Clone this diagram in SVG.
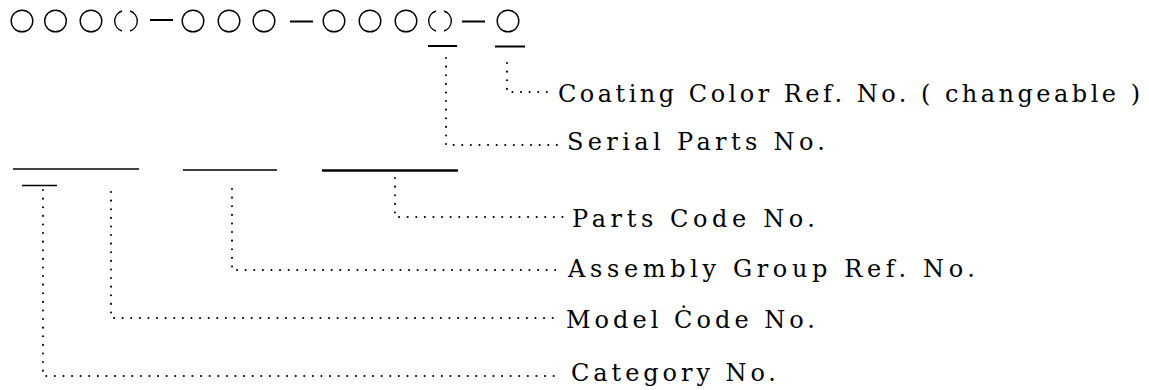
<svg xmlns="http://www.w3.org/2000/svg" width="1149" height="390" viewBox="0 0 1149 390">
<style>
.c{fill:none;stroke:#000;stroke-width:1.4}
.d{stroke:#000;stroke-width:2}
.u{stroke:#000;stroke-width:1.4}
.lead{fill:none;stroke:#000;stroke-width:2;stroke-dasharray:0.1 8.5;stroke-linecap:round}
.t{font-family:"DejaVu Serif","Liberation Serif",serif;font-size:24px;fill:#000}
</style>
<rect width="1149" height="390" fill="#fff"/>
<g id="code">
<circle class="c" cx="22" cy="21" r="10.8"/>
<circle class="c" cx="55.5" cy="21" r="10.8"/>
<circle class="c" cx="91" cy="21" r="10.8"/>
<path class="c" d="M122 11 A10.5 10.5 0 0 0 122 31 M130 11 A10.5 10.5 0 0 1 130 31"/>
<line class="d" x1="150" y1="20" x2="173" y2="20"/>
<circle class="c" cx="193" cy="21" r="10.8"/>
<circle class="c" cx="229" cy="21" r="10.8"/>
<circle class="c" cx="264" cy="21" r="10.8"/>
<line class="d" x1="290" y1="21.5" x2="313" y2="21.5"/>
<circle class="c" cx="334" cy="21" r="10.8"/>
<circle class="c" cx="370" cy="21" r="10.8"/>
<circle class="c" cx="406" cy="21" r="10.8"/>
<path class="c" d="M436 11 A10.5 10.5 0 0 0 436 31 M444 11 A10.5 10.5 0 0 1 444 31"/>
<line class="d" x1="462" y1="21.5" x2="485" y2="21.5"/>
<circle class="c" cx="508" cy="21" r="10.8"/>
</g>
<g id="underlines">
<line class="d" x1="428" y1="46" x2="457" y2="46"/>
<line class="d" x1="495" y1="46.5" x2="525" y2="46.5"/>
<line class="u" x1="13" y1="169" x2="139" y2="169"/>
<line class="u" x1="183" y1="170" x2="277" y2="170"/>
<line class="d" x1="322" y1="170.5" x2="458" y2="170.5" style="stroke-width:2.6"/>
<line class="u" x1="22" y1="185.5" x2="57" y2="185.5"/>
</g>
<g id="connectors">
<path class="lead" d="M507 63 V92 H552"/>
<path class="lead" d="M446 58 V145 H560"/>
<path class="lead" d="M395 178 V217 H563"/>
<path class="lead" d="M232 189 V270 H561"/>
<path class="lead" d="M111 192 V318 H558"/>
<path class="lead" d="M43 190 V376 H562"/>
</g>
<g id="label-coating"><text class="t" x="558" y="102" textLength="582" lengthAdjust="spacing">Coating Color Ref. No. ( changeable )</text></g>
<g id="label-serial"><text class="t" x="567" y="150" textLength="258" lengthAdjust="spacing">Serial Parts No.</text></g>
<g id="label-parts"><text class="t" x="572" y="227" textLength="243" lengthAdjust="spacing">Parts Code No.</text></g>
<g id="label-assembly"><text class="t" x="568" y="277" textLength="407" lengthAdjust="spacing">Assembly Group Ref. No.</text></g>
<g id="label-model"><text class="t" x="566" y="328" textLength="249" lengthAdjust="spacing">Model Ċode No.</text></g>
<g id="label-category"><text class="t" x="571" y="381" textLength="205" lengthAdjust="spacing">Category No.</text></g>
</svg>
